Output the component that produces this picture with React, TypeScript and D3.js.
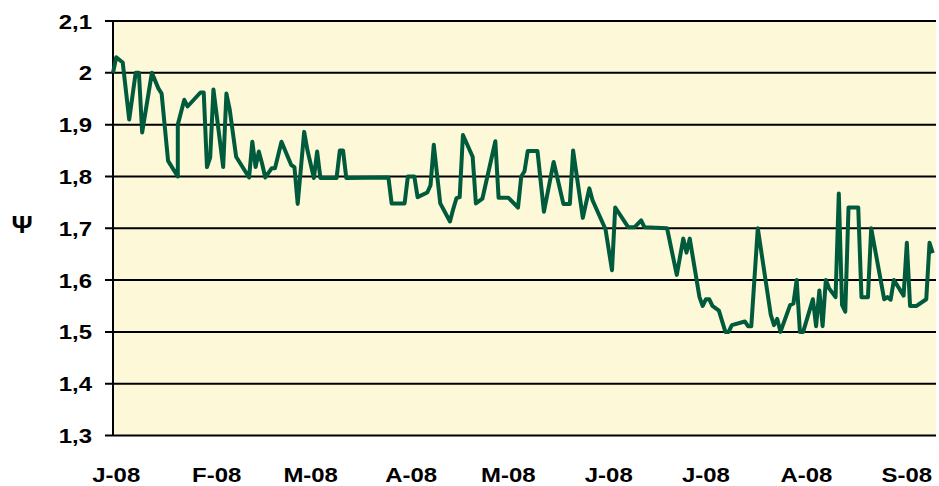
import React, { useRef, useEffect } from 'react';
import * as d3 from 'd3';

// vertices (date, value)
const dates = [
  '2007-12-31', '2008-01-01', '2008-01-03', '2008-01-05', '2008-01-07', '2008-01-08', '2008-01-09',
  '2008-01-12', '2008-01-14', '2008-01-15', '2008-01-17', '2008-01-20', '2008-01-20', '2008-01-22',
  '2008-01-23', '2008-01-27', '2008-01-28', '2008-01-29', '2008-01-30', '2008-01-31',
  '2008-02-03', '2008-02-04', '2008-02-05', '2008-02-07', '2008-02-11', '2008-02-12', '2008-02-13',
  '2008-02-14', '2008-02-15', '2008-02-16', '2008-02-18', '2008-02-19', '2008-02-21', '2008-02-24',
  '2008-02-25', '2008-02-26', '2008-02-28', '2008-02-29',
  '2008-03-02', '2008-03-03', '2008-03-04', '2008-03-09', '2008-03-10', '2008-03-11', '2008-03-12',
  '2008-03-25', '2008-03-26', '2008-03-30', '2008-03-31',
  '2008-04-02', '2008-04-03', '2008-04-06', '2008-04-07', '2008-04-08', '2008-04-10', '2008-04-13',
  '2008-04-14', '2008-04-15', '2008-04-16', '2008-04-17', '2008-04-20', '2008-04-21', '2008-04-23',
  '2008-04-27', '2008-04-28',
  '2008-05-01', '2008-05-04', '2008-05-05', '2008-05-06', '2008-05-07', '2008-05-10', '2008-05-12',
  '2008-05-15', '2008-05-18', '2008-05-20', '2008-05-21', '2008-05-24', '2008-05-26', '2008-05-27',
  '2008-05-31',
  '2008-06-02', '2008-06-03', '2008-06-07', '2008-06-09', '2008-06-11', '2008-06-12', '2008-06-19',
  '2008-06-22', '2008-06-24', '2008-06-25', '2008-06-26', '2008-06-29', '2008-06-30',
  '2008-07-01', '2008-07-02', '2008-07-03', '2008-07-05', '2008-07-07', '2008-07-08', '2008-07-09',
  '2008-07-13', '2008-07-14', '2008-07-15', '2008-07-17', '2008-07-21', '2008-07-22', '2008-07-23',
  '2008-07-24', '2008-07-27', '2008-07-28', '2008-07-29', '2008-07-30', '2008-07-31',
  '2008-08-03', '2008-08-04', '2008-08-05', '2008-08-06', '2008-08-07', '2008-08-08', '2008-08-10',
  '2008-08-11', '2008-08-12', '2008-08-13', '2008-08-14', '2008-08-17', '2008-08-18', '2008-08-20',
  '2008-08-21', '2008-08-25', '2008-08-26', '2008-08-27', '2008-08-28', '2008-08-31',
  '2008-09-01', '2008-09-02', '2008-09-04', '2008-09-07', '2008-09-08', '2008-09-09'
];

const values = [
  2.00, 2.03, 2.02, 1.91, 2.00, 2.00, 1.885,
  2.00, 1.97, 1.96, 1.83, 1.80, 1.90, 1.948,
  1.935, 1.962, 1.962, 1.818, 1.837, 1.968,
  1.818, 1.96, 1.93, 1.838, 1.798, 1.867, 1.818,
  1.848, 1.825, 1.798, 1.816, 1.816, 1.867, 1.822,
  1.818, 1.747, 1.886, 1.851,
  1.797, 1.848, 1.797, 1.797, 1.85, 1.85, 1.797,
  1.798, 1.748, 1.748, 1.80,
  1.80, 1.76, 1.769, 1.783, 1.861, 1.748, 1.713,
  1.737, 1.758, 1.76, 1.88, 1.838, 1.748, 1.757,
  1.868, 1.759,
  1.759, 1.74, 1.80, 1.81, 1.849, 1.849, 1.732,
  1.828, 1.747, 1.747, 1.85, 1.72, 1.777, 1.754,
  1.698,
  1.619, 1.74, 1.702, 1.702, 1.715, 1.702, 1.70,
  1.61, 1.68, 1.653, 1.68, 1.567, 1.55,
  1.563, 1.563, 1.55, 1.541, 1.50, 1.50, 1.513,
  1.52, 1.511, 1.511, 1.70, 1.533, 1.513, 1.525,
  1.50, 1.552, 1.555, 1.60, 1.50, 1.50,
  1.563, 1.511, 1.58, 1.511, 1.60, 1.584, 1.567,
  1.767, 1.552, 1.539, 1.74, 1.74, 1.567, 1.567,
  1.70, 1.563, 1.567, 1.562, 1.60, 1.57,
  1.672, 1.55, 1.55, 1.563, 1.672, 1.652
];

const monthStarts = ['2008-01-01', '2008-02-01', '2008-03-01', '2008-04-01', '2008-05-01',
  '2008-06-01', '2008-07-01', '2008-08-01', '2008-09-01'];
const monthLabels = ['J-08', 'F-08', 'M-08', 'A-08', 'M-08', 'J-08', 'J-08', 'A-08', 'S-08'];
const yTicks = [1.3, 1.4, 1.5, 1.6, 1.7, 1.8, 1.9, 2.0, 2.1];

const App = () => {
  const svgRef = useRef(null);
  const width = 939;
  const height = 486;

  useEffect(() => {
    if (!svgRef.current) return;
    const svg = d3.select(svgRef.current);
    svg.selectAll('*').remove();

    const left = 113, right = 936, top = 21, bottom = 435.5;
    const parse = d3.utcParse('%Y-%m-%d');
    const font = '"Liberation Sans", Arial, sans-serif';
    const stretch = 1.14; // labels in the original are a bit wide

    const x = d3.scaleUtc()
      .domain([parse('2007-12-31'), parse('2008-09-10')])
      .range([left, right]);
    const y = d3.scaleLinear().domain([1.3, 2.1]).range([bottom, top]);

    // plot background
    svg.append('rect')
      .attr('x', left).attr('y', top)
      .attr('width', right - left).attr('height', bottom - top)
      .attr('fill', '#fcf8d8');

    // gridlines
    svg.selectAll('.grid')
      .data(yTicks)
      .enter()
      .append('line')
      .attr('x1', left - 8)
      .attr('x2', right)
      .attr('y1', d => y(d))
      .attr('y2', d => y(d))
      .attr('stroke', '#000')
      .attr('stroke-width', 2);

    // left axis line
    svg.append('line')
      .attr('x1', left).attr('x2', left)
      .attr('y1', top).attr('y2', bottom)
      .attr('stroke', '#000')
      .attr('stroke-width', 2);

    // y tick labels
    svg.selectAll('.ylab')
      .data(yTicks)
      .enter()
      .append('text')
      .attr('transform', d => `translate(92, ${y(d)}) scale(${stretch}, 1)`)
      .attr('dy', '0.36em')
      .attr('text-anchor', 'end')
      .attr('font-family', font)
      .attr('font-weight', 'bold')
      .attr('font-size', 21)
      .attr('fill', '#000')
      .text(d => d3.format('~g')(d).replace('.', ','));

    // x labels
    svg.selectAll('.xlab')
      .data(monthStarts)
      .enter()
      .append('text')
      .attr('transform', d => `translate(${x(parse(d))}, 482) scale(${stretch}, 1)`)
      .attr('text-anchor', 'middle')
      .attr('font-family', font)
      .attr('font-weight', 'bold')
      .attr('font-size', 21)
      .attr('fill', '#000')
      .text((d, i) => monthLabels[i]);

    // axis title
    svg.append('text')
      .attr('transform', `translate(22, 225) scale(${stretch}, 1)`)
      .attr('dy', '0.36em')
      .attr('text-anchor', 'middle')
      .attr('font-family', font)
      .attr('font-weight', 'bold')
      .attr('font-size', 23)
      .attr('fill', '#000')
      .text('Ψ');

    const points = dates.map((d, i) => ({ date: parse(d), value: values[i] }));
    const line = d3.line()
      .x(d => x(d.date))
      .y(d => y(d.value));

    svg.append('path')
      .datum(points)
      .attr('d', line)
      .attr('fill', 'none')
      .attr('stroke', '#005a3c')
      .attr('stroke-width', 4)
      .attr('stroke-linejoin', 'round');
  }, []);

  return (
    <div style={{ position: 'absolute', left: 0, top: 0, width, height, background: '#fff' }}>
      <svg ref={svgRef} width={width} height={height} style={{ display: 'block' }}></svg>
    </div>
  );
};

export default App;
